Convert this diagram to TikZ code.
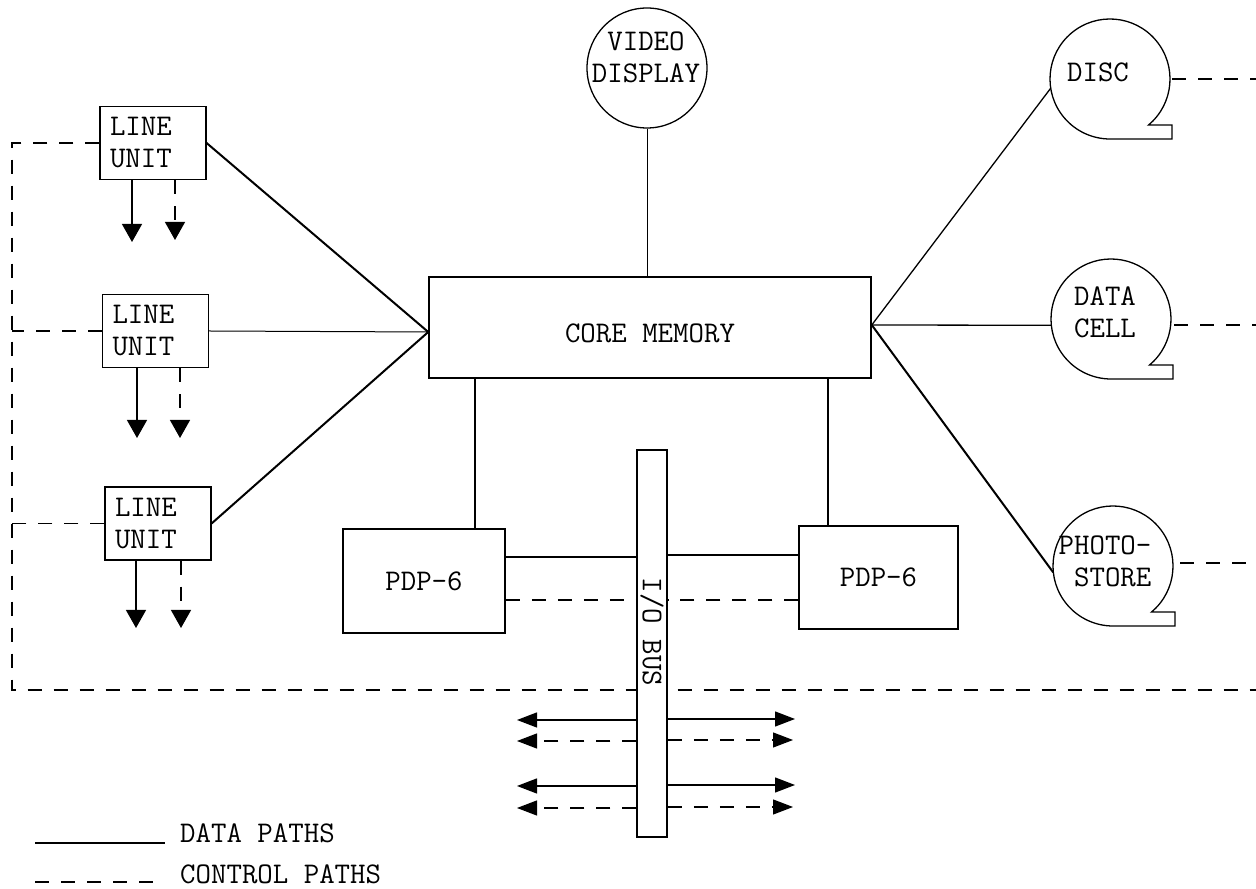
\documentclass[tikz,border=0pt]{standalone}
\usepackage{fontspec}
\usetikzlibrary{arrows.meta}
\begin{document}
\begin{tikzpicture}[x=1pt,y=1pt,
  every node/.style={font=\ttfamily\fontsize{30}{32}\selectfont},
  lu/.style={draw, line width=1.2pt, minimum width=106pt, minimum height=73pt, text width=86pt, align=left, inner xsep=10pt, inner ysep=0pt},
  bigbox/.style={draw, line width=1.5pt, inner sep=0pt},
  drum/.style={circle, minimum size=120pt, inner sep=0pt},
  lbl/.style={inner sep=0pt, align=center},
  data/.style={line width=1.3pt},
  thickdata/.style={line width=2pt},
  ctrl/.style={line width=1.2pt, dash pattern=on 14pt off 12pt},
  lutip/.style={-{Triangle[width=20pt,length=18pt]}},
  bustip/.style={-{Triangle[width=15pt,length=20pt]}}
]
\useasboundingbox (0,0) rectangle (1256,889);

% line units
\node[lu] (lu1) at (153,746) {LINE\\UNIT};
\node[lu] (lu2) at (155.5,558) {LINE\\UNIT};
\node[lu] (lu3) at (158,365.5) {LINE\\UNIT};

% core memory
\node[bigbox, minimum width=442pt, minimum height=101pt] (core) at (650,561.5) {};
\node[lbl] (corelbl) at (650,556) {CORE MEMORY};

% video display
\node[drum, draw, line width=1.3pt] (video) at (647,821) {};
\node[lbl] (videolbl) at (646,831.5) {VIDEO\\DISPLAY};

% drums
\node[drum] (disc) at (1110,810) {};
\node[lbl] (disclbl) at (1098,817) {DISC};
\node[drum] (dcell) at (1111,570) {};
\node[lbl] (dcelllbl) at (1105,576.5) {DATA\\CELL};
\node[drum] (photo) at (1113,323) {};
\node[lbl, align=right] (photolbl) at (1105,328) {PHOTO-\\STORE};
\foreach \d in {disc,dcell,photo}{
  \draw[data] ([shift={(-50:60pt)}]\d.center) arc[start angle=-50,end angle=270,radius=60pt]
    -- ++(62pt,0) -- ++(0,14pt) -- cycle;
}

% PDP-6
\node[bigbox, minimum width=162pt, minimum height=104pt] (pdpl) at (424,308) {PDP-6};
\node[bigbox, minimum width=159pt, minimum height=103pt] (pdpr) at (878.5,311.5) {PDP-6};

% coordinates
\coordinate (ltop) at (12,746);
\coordinate (lbot) at (12,199);
\coordinate (rbot) at (1256,199);
\coordinate (redge) at (1256,0);

% control loop
\draw[ctrl] (lu1.west) -- (ltop) -- (lbot) -- (rbot);
\draw[ctrl] (lu2.west) -- (lu2.west -| ltop);
\draw[ctrl] (lu3.west) -- (lu3.west -| ltop);

% drum control lines
\draw[ctrl] ([xshift=2pt]disc.east) -- ([xshift=2pt]disc.east -| redge);
\draw[ctrl] ([shift={(3pt,-6pt)}]dcell.east) -- ([shift={(3pt,-6pt)}]dcell.east -| redge);
\draw[ctrl] ([shift={(7pt,3pt)}]photo.east) -- ([shift={(7pt,3pt)}]photo.east -| redge);

% line units to core
\draw[thickdata] (lu1.east) -- ([yshift=-4.5pt]core.west);
\draw[line width=1pt] (lu2.east) -- ([yshift=-4.5pt]core.west);
\draw[thickdata] (lu3.east) -- ([yshift=-4.5pt]core.west);

% core to drums
\draw[data] ([yshift=2.5pt]core.east) -- (disc.189);
\draw[data] ([yshift=2.5pt]core.east) -- (dcell.186);
\draw[thickdata] ([yshift=2.5pt]core.east) -- (photo.186);

% video
\draw[line width=1pt] (video.south) -- (video.south |- core.north);

% core to PDPs
\draw[data] ([xshift=51pt]pdpl.north) -- ([xshift=51pt]pdpl.north |- core.south);
\draw[data] ([xshift=-50.5pt]pdpr.north) -- ([xshift=-50.5pt]pdpr.north |- core.south);

% line unit arrows
\coordinate (a1s) at (132,647); \coordinate (a1c) at (175,649);
\coordinate (a2s) at (137,451); \coordinate (a2c) at (180,451);
\coordinate (a3s) at (136,261); \coordinate (a3c) at (181,261);
\draw[data, lutip] (lu1.south -| a1s) -- (a1s);
\draw[ctrl, lutip] (lu1.south -| a1c) -- (a1c);
\draw[data, lutip] (lu2.south -| a2s) -- (a2s);
\draw[ctrl, lutip] (lu2.south -| a2c) -- (a2c);
\draw[data, lutip] (lu3.south -| a3s) -- (a3s);
\draw[ctrl, lutip] (lu3.south -| a3c) -- (a3c);

% I/O bus
\node[bigbox, fill=white, minimum width=30pt, minimum height=387pt] (bus) at (652,245.5) {};
\node[lbl, rotate=-90] (buslbl) at (652,257) {I/O BUS};

% PDP to bus
\draw[data] ([yshift=24pt]pdpl.east) -- ([yshift=24pt]pdpl.east -| bus.west);
\draw[ctrl] ([yshift=-19pt]pdpl.east) -- ([yshift=-19pt]pdpl.east -| bus.west);
\draw[data] ([yshift=22.5pt]pdpr.west) -- ([yshift=22.5pt]pdpr.west -| bus.east);
\draw[ctrl] ([yshift=-22.5pt]pdpr.west) -- ([yshift=-22.5pt]pdpr.west -| bus.east);

% bus arrows
\coordinate (bl1) at (517,169); \coordinate (br1) at (795,170);
\coordinate (bl2) at (517,148); \coordinate (br2) at (793,149);
\coordinate (bl3) at (517,103); \coordinate (br3) at (795,104);
\coordinate (bl4) at (517,81);  \coordinate (br4) at (793,82);
\draw[data, bustip] (bus.west |- bl1) -- (bl1);
\draw[data, bustip] (bus.east |- br1) -- (br1);
\draw[ctrl, bustip] (bus.west |- bl2) -- (bl2);
\draw[ctrl, bustip] (bus.east |- br2) -- (br2);
\draw[data, bustip] (bus.west |- bl3) -- (bl3);
\draw[data, bustip] (bus.east |- br3) -- (br3);
\draw[ctrl, bustip] (bus.west |- bl4) -- (bl4);
\draw[ctrl, bustip] (bus.east |- br4) -- (br4);

% legend
\coordinate (lg1a) at (35,46); \coordinate (lg1b) at (165,46);
\coordinate (lg2a) at (35,7);  \coordinate (lg2b) at (160,7);
\draw[data] (lg1a) -- (lg1b);
\draw[ctrl] (lg2a) -- (lg2b);
\node[inner sep=0pt, anchor=base west] (leg1) at (180,46) {DATA PATHS};
\node[inner sep=0pt, text depth=0pt, anchor=base west] (leg2) at (180,5) {CONTROL PATHS};
\end{tikzpicture}
\end{document}
